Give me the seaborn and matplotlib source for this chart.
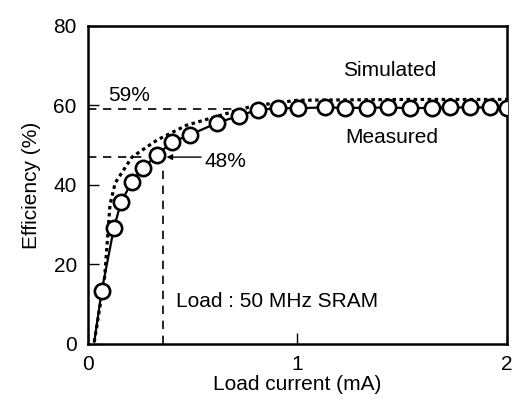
import matplotlib
matplotlib.use("Agg")
import matplotlib.pyplot as plt
import seaborn as sns
import pandas as pd

# Measured efficiency (first point is the line start, no marker)
meas_x = [0.03, 0.065, 0.124, 0.158, 0.21, 0.263, 0.329, 0.401, 0.487, 0.616, 0.721,
          0.811, 0.907, 1.002, 1.131, 1.227, 1.332, 1.432, 1.537, 1.642, 1.728,
          1.823, 1.919, 2.0]
meas_y = [0.5, 13.2, 29.2, 35.7, 40.8, 44.3, 47.5, 50.8, 52.6, 55.6, 57.4,
          58.9, 59.3, 59.3, 59.5, 59.4, 59.4, 59.5, 59.3, 59.4, 59.5,
          59.5, 59.5, 59.4]

# Simulated efficiency
sim_x = [0.03, 0.08, 0.105, 0.13, 0.21, 0.33, 0.47, 0.69, 0.79, 1.0, 1.5, 2.0]
sim_y = [0.5, 17.0, 35.0, 40.5, 47.0, 51.3, 55.0, 58.4, 59.9, 61.3, 61.5, 61.5]

x_ticks = [0, 1, 2]
y_ticks = [0, 20, 40, 60, 80]

sns.set_theme(style="ticks")
plt.rcParams['font.family'] = ['Liberation Sans', 'DejaVu Sans']
plt.rcParams['text.color'] = 'black'
plt.rcParams['axes.labelcolor'] = 'black'
plt.rcParams['xtick.color'] = 'black'
plt.rcParams['ytick.color'] = 'black'

fig = plt.figure(figsize=(5.13, 3.99), dpi=100)
ax = fig.add_axes([0.1715, 0.138, 0.8165, 0.797])

meas = pd.DataFrame({"x": meas_x, "y": meas_y})
sim = pd.DataFrame({"x": sim_x, "y": sim_y})

sns.lineplot(data=sim, x="x", y="y", ax=ax, color="black", linewidth=2.3,
             linestyle=(0, (1.1, 1.1)), sort=False, zorder=2)
sns.lineplot(data=meas, x="x", y="y", ax=ax, color="black", linewidth=1.6,
             marker="o", markersize=11, markerfacecolor="white",
             markeredgecolor="black", markeredgewidth=1.9,
             markevery=list(range(1, len(meas_x))), sort=False, zorder=3)

# Reference dashed lines
ax.plot([0, 0.71], [59, 59], color="black", lw=1.2, ls=(0, (5, 4)), zorder=1)
ax.plot([0, 0.28], [47.1, 47.1], color="black", lw=1.2, ls=(0, (5, 4)), zorder=1)
ax.plot([0.356, 0.356], [0, 44.5], color="black", lw=1.2, ls=(0, (5, 4)), zorder=1)

fs = 15
ax.text(0.095, 62.4, "59%", fontsize=fs, ha="left", va="center", color="black")
ax.text(0.555, 46.0, "48%", fontsize=fs, ha="left", va="center", color="black")
ax.annotate("", xy=(0.375, 47.0), xytext=(0.54, 47.0),
            arrowprops=dict(arrowstyle="-|>", color="black", lw=1.0,
                            mutation_scale=8, shrinkA=0, shrinkB=0))
ax.text(1.44, 68.7, "Simulated", fontsize=fs, ha="center", va="center", color="black")
ax.text(1.45, 52.0, "Measured", fontsize=fs, ha="center", va="center", color="black")
ax.text(0.42, 10.6, "Load : 50 MHz SRAM", fontsize=fs, ha="left", va="center",
        color="black")

ax.set_xlim(0, 2)
ax.set_ylim(0, 80)
ax.set_xticks(x_ticks)
ax.set_yticks(y_ticks)
ax.set_xticklabels([str(v) for v in x_ticks])
ax.set_yticklabels([str(v) for v in y_ticks])
ax.tick_params(direction="in", length=8, width=1.0, labelsize=fs, colors="black",
               labelcolor="black", pad=8)
for s in ax.spines.values():
    s.set_linewidth(1.8)
    s.set_color("black")
    s.set_visible(True)

ax.set_xlabel("Load current (mA)", fontsize=fs, labelpad=1, color="black")
ax.set_ylabel("Efficiency (%)", fontsize=fs, labelpad=9, color="black")

fig.savefig("out.png", dpi=100)
